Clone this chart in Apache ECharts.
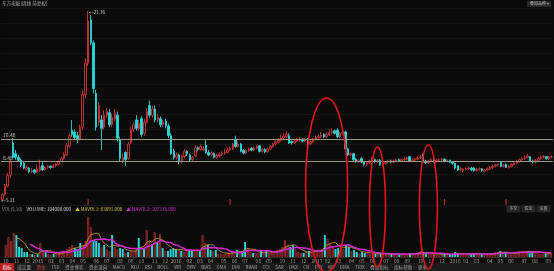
<!DOCTYPE html>
<html><head><meta charset="utf-8">
<script src="https://cdn.jsdelivr.net/npm/echarts@6/dist/echarts.min.js"></script>
<style>html,body{margin:0;padding:0;background:#0a0a0a;overflow:hidden}#c{width:554px;height:271px}</style>
</head><body><div id="c"></div>
<script>
// ---- data (weekly, forward adjusted) ----
const startDate = '2014-10-10';
const opens = [5.16,5.58,6.33,7.28,10.14,9.19,8.87,8.61,8.34,7.81,7.92,7.60,7.76,7.55,7.70,8.13,7.81,7.97,8.08,7.97,
8.13,8.24,8.50,8.77,9.08,9.83,11.26,11.10,10.78,10.46,11.52,14.39,17.15,20.97,18.95,14.49,11.95,12.16,11.52,12.58,
12.80,11.74,12.27,12.58,10.46,8.55,9.30,8.77,10.14,11.31,12.16,11.42,12.27,10.99,11.95,13.43,12.58,13.12,12.16,12.27,
11.74,12.05,11.63,10.78,9.40,8.87,9.08,8.45,8.93,9.40,9.08,8.66,8.98,9.72,9.56,9.51,9.93,9.30,9.08,9.19,
8.87,9.03,9.14,9.24,9.30,9.51,9.61,10.46,9.83,10.04,9.48,9.24,9.48,9.67,9.51,9.67,9.88,9.40,9.56,9.35,
9.61,9.83,10.04,10.20,10.36,10.57,10.68,10.78,10.25,10.14,10.30,10.36,10.46,10.30,10.46,10.04,10.25,10.46,10.62,10.73,
10.89,10.68,10.83,11.05,11.21,11.26,10.68,10.99,11.10,9.61,9.08,9.19,8.71,8.50,8.77,8.45,8.24,8.39,8.55,8.66,
8.50,8.61,8.18,8.34,8.45,8.55,8.45,8.55,8.66,8.55,8.66,8.71,8.93,8.50,8.61,8.71,8.82,9.03,8.55,8.39,
8.55,8.66,8.50,8.61,8.66,8.71,8.55,8.61,8.45,8.34,8.13,7.76,7.70,7.81,7.86,7.92,7.92,7.70,7.81,7.86,
7.65,7.76,7.86,7.97,8.08,8.18,8.45,8.08,8.24,7.97,8.08,8.24,8.34,8.50,8.66,8.77,8.87,8.93,8.55,8.45,
8.61,8.77,8.87,8.93,8.77,8.87];
const closes = [5.58,6.33,7.28,8.45,8.87,8.87,8.61,8.18,7.92,7.97,7.60,7.70,7.55,7.81,8.02,7.76,7.97,8.08,7.97,8.13,
8.29,8.50,8.77,9.14,9.93,10.78,10.89,10.62,10.41,11.52,14.39,17.15,20.86,18.95,14.92,11.52,13.43,11.42,12.58,12.90,
11.74,12.37,12.80,10.57,8.77,8.87,8.66,10.04,11.31,11.74,11.42,11.84,10.89,11.95,12.90,12.58,13.12,12.16,12.37,11.74,
11.95,11.63,10.78,9.19,8.87,9.08,8.45,8.98,9.40,9.19,8.66,8.87,9.72,9.56,9.83,9.61,9.30,9.08,9.24,8.87,
9.03,9.14,9.24,9.35,9.51,9.67,10.04,9.83,10.04,9.40,9.24,9.48,9.61,9.51,9.67,9.83,9.40,9.56,9.35,9.61,
9.83,10.04,10.20,10.36,10.57,10.73,10.89,10.14,10.14,10.30,10.41,10.46,10.30,10.46,10.04,10.25,10.46,10.62,10.73,10.83,
10.68,10.89,11.05,11.15,10.99,10.68,10.99,11.10,9.61,9.08,9.19,8.66,8.50,8.61,8.45,8.24,8.39,8.55,8.66,8.50,
8.61,8.18,8.34,8.45,8.55,8.45,8.55,8.66,8.55,8.66,8.71,8.82,8.50,8.61,8.71,8.82,8.87,8.45,8.39,8.55,
8.66,8.50,8.61,8.66,8.71,8.55,8.61,8.45,8.34,7.92,7.76,7.86,7.81,7.86,7.92,7.76,7.70,7.81,7.86,7.70,
7.76,7.86,7.97,8.08,8.18,8.24,8.08,8.18,7.97,8.08,8.24,8.34,8.50,8.66,8.77,8.87,8.98,8.50,8.45,8.61,
8.77,8.87,8.93,8.77,8.87,8.93];
const lows = [5.11,5.48,6.22,7.07,8.77,8.66,8.45,8.02,7.81,7.70,7.49,7.49,7.39,7.49,7.60,7.65,7.70,7.86,7.86,7.92,
8.02,8.18,8.45,8.66,8.98,9.72,10.68,10.46,10.14,10.36,11.31,14.07,16.93,18.74,14.49,11.21,11.63,9.51,11.31,12.37,
11.52,11.52,12.05,10.25,8.45,8.34,8.13,8.66,10.04,11.10,11.21,11.21,10.68,10.78,11.84,12.37,12.37,11.95,11.95,11.52,
11.52,11.42,10.57,9.08,8.66,8.66,8.24,8.34,8.77,8.98,8.55,8.55,8.87,9.40,9.45,9.40,9.19,8.98,8.98,8.77,
8.77,8.87,8.98,9.08,9.19,9.40,9.51,9.72,9.72,9.30,9.14,9.14,9.35,9.40,9.40,9.56,9.30,9.30,9.24,9.30,
9.51,9.72,9.93,10.09,10.25,10.46,10.57,10.04,9.99,10.04,10.20,10.25,10.20,10.20,9.83,9.93,10.14,10.36,10.46,10.57,
10.57,10.57,10.73,10.89,10.89,10.57,10.57,10.89,9.51,8.98,8.98,8.55,8.39,8.39,8.34,8.13,8.13,8.29,8.45,8.39,
8.39,8.13,8.08,8.24,8.34,8.34,8.34,8.45,8.45,8.45,8.55,8.61,8.45,8.45,8.55,8.61,8.71,8.34,8.29,8.29,
8.45,8.39,8.39,8.50,8.55,8.45,8.45,8.34,8.24,7.81,7.65,7.65,7.55,7.70,7.76,7.65,7.60,7.60,7.70,7.60,
7.55,7.65,7.76,7.86,7.97,8.08,8.02,7.97,7.92,7.86,7.97,8.13,8.24,8.39,8.55,8.66,8.77,8.45,8.34,8.34,
8.50,8.66,8.77,8.66,8.66,8.77];
const highs = [5.69,6.54,7.49,8.66,10.57,9.51,9.08,8.77,8.55,8.13,8.02,7.92,7.81,8.24,8.66,8.45,8.08,8.18,8.18,8.24,
8.39,8.61,8.87,9.30,10.14,10.99,12.16,11.31,11.10,11.74,14.81,17.57,21.76,21.39,19.16,14.81,13.75,12.58,13.01,13.22,
13.12,12.69,13.12,12.90,10.68,9.19,9.40,10.25,11.63,11.95,12.58,12.16,12.48,12.27,13.22,13.86,13.43,13.43,12.69,12.48,
12.16,12.27,11.84,10.99,9.61,9.30,9.19,9.08,9.61,9.51,9.19,8.98,9.93,9.83,10.00,9.83,10.36,9.51,9.40,9.30,
9.19,9.30,9.40,9.61,9.72,9.83,10.14,10.78,10.25,10.14,9.61,9.56,9.72,9.77,9.83,9.93,9.93,9.67,9.67,9.72,
9.93,10.14,10.36,10.57,10.89,10.99,11.21,10.99,10.36,10.46,10.57,10.62,10.57,10.57,10.57,10.36,10.57,10.78,10.89,11.10,
10.99,11.10,11.31,11.42,11.31,11.42,11.10,11.31,11.21,9.72,9.30,9.24,8.82,8.71,8.87,8.55,8.50,8.66,8.87,8.77,
8.71,8.71,8.45,8.55,8.66,8.66,8.66,8.77,8.77,8.77,8.87,8.93,8.98,8.77,8.82,8.98,9.08,9.19,8.66,8.66,
8.77,8.77,8.71,8.77,8.82,8.77,8.71,8.66,8.50,8.39,8.18,7.97,7.92,7.97,8.08,8.02,8.02,7.92,7.97,7.92,
7.86,7.97,8.08,8.18,8.29,8.34,8.55,8.29,8.34,8.18,8.34,8.45,8.61,8.77,8.93,9.03,9.19,8.98,8.66,8.71,
8.87,9.03,9.08,8.98,8.98,9.03];
const volumes = [300000,500000,400000,600000,550000,250000,225000,125000,125000,75000,75000,50000,75000,350000,150000,150000,75000,50000,75000,75000,
100000,125000,150000,200000,250000,300000,225000,200000,350000,300000,400000,1000000,750000,425000,400000,350000,250000,300000,200000,150000,
550000,250000,200000,225000,200000,100000,125000,150000,150000,200000,475000,250000,225000,675000,375000,325000,625000,350000,575000,225000,
150000,150000,200000,225000,200000,175000,150000,125000,175000,175000,150000,125000,200000,150000,550000,350000,300000,175000,150000,175000,
75000,75000,75000,100000,100000,125000,125000,175000,125000,150000,375000,225000,125000,100000,100000,100000,150000,100000,175000,100000,
125000,150000,175000,200000,250000,425000,300000,250000,300000,200000,125000,100000,100000,125000,150000,125000,175000,175000,150000,200000,
550000,450000,350000,250000,200000,225000,300000,200000,300000,250000,150000,175000,125000,100000,125000,100000,125000,75000,75000,75000,
75000,100000,75000,75000,50000,75000,75000,75000,75000,50000,75000,75000,100000,75000,75000,125000,150000,125000,100000,75000,
75000,75000,75000,50000,75000,75000,50000,75000,75000,125000,100000,75000,75000,50000,75000,75000,100000,75000,75000,75000,
50000,75000,75000,100000,125000,125000,150000,100000,125000,75000,75000,100000,125000,150000,150000,125000,120000,150000,140000,130000,
114325,72000,65455,88000,90000,104000];
const levelValues = [10.48, 8.48];
const peakIndex = 32, lowIndex = 0;
const volumeLegend = ['VOL(5,10)', 'VOLUME: 104000.000', '▲ MAVOL1: 83891.000', '▲ MAVOL2: 107378.000'];
const title = '东方电缆(周线 前复权)';
const tabs = ['指标','成交量','资金','TSD','资金博弈','资金流向','MACD','KDJ','RSI','BOLL','WR','OBV','BIAS','DMA','DMI','BRAR','CCI','SAR','DKX','CR','PSY','KD','DMA','TRIX','叠加指标','指标帮助','更多'];
// annotation circles: anchored at a week index and a price (top of ellipse)
const circles = [{index:121, top:14.09, rx:21, ry:87}, {index:140, top:9.78, rx:8, ry:60}, {index:159, top:9.95, rx:9, ry:62}];
const eventMarks = [32, 85, 165, 188];

// ---- build ----
const dates = [];
{ const d0 = new Date(startDate + 'T00:00:00Z');
  for (let i = 0; i < opens.length; i++) { const d = new Date(d0.getTime() + i*7*86400000); dates.push(d.toISOString().slice(0,10)); } }
const kdata = opens.map((o,i)=>[o, closes[i], lows[i], highs[i]]);
const UP = '#cc3638', DOWN = '#2bd6d6', BG = '#0a0a0a';
const volData = volumes.map((v,i)=>{ const up = closes[i] >= opens[i];
  return {value:v, itemStyle: up ? {color:BG, borderColor:'#b83434', borderWidth:0.8} : {color:DOWN}}; });
function ma(n){ return volumes.map((v,i)=>{ if(i<n-1) return null; let s=0; for(let k=i-n+1;k<=i;k++) s+=volumes[k]; return +(s/n).toFixed(0); }); }
const FONT = '"Noto Sans CJK SC", "Noto Sans", sans-serif';

const chart = echarts.init(document.getElementById('c'), null, {renderer:'canvas'});
chart.setOption({
  backgroundColor: BG, animation: false,
  grid: [{left:1, right:1, top:8, height:197}, {left:1, right:1, top:215, height:42}],
  xAxis: [
    {type:'category', gridIndex:0, data:dates, boundaryGap:true, axisLine:{show:false}, axisTick:{show:false}, axisLabel:{show:false}},
    {type:'category', gridIndex:1, data:dates, boundaryGap:true, axisLine:{lineStyle:{color:'#2a2a2a'}}, axisTick:{show:false},
     axisLabel:{fontSize:5, color:'#9a9a9a', margin:2, fontFamily:FONT,
       interval:(i)=> i===0 || dates[i].slice(5,7)!==dates[i-1].slice(5,7),
       formatter:(v)=> v.slice(5,7)==='01' ? v.slice(0,4) : v.slice(5,7)}}
  ],
  yAxis: [
    {type:'value', gridIndex:0, min:4.67, max:22.02, axisLine:{show:false}, axisTick:{show:false}, axisLabel:{show:false}, splitLine:{show:false}},
    {type:'value', gridIndex:0, min:0, max:13, interval:1, axisLine:{show:false}, axisTick:{show:false}, axisLabel:{show:false}, splitLine:{lineStyle:{color:'#151515', width:1}}},
    {type:'value', gridIndex:1, min:0, max:1050000, axisLine:{show:false}, axisTick:{show:false}, axisLabel:{show:false}, splitLine:{show:false}}
  ],
  series: [
    {type:'candlestick', xAxisIndex:0, yAxisIndex:0, data:kdata, barWidth:'74%',
     itemStyle:{color:BG, color0:DOWN, borderColor:UP, borderColor0:DOWN, borderWidth:0.9},
     markLine:{silent:true, symbol:'none', animation:false,
       lineStyle:{color:'#9c9882', type:'solid', width:1},
       label:{position:'insideStartTop', fontSize:5, color:'#c8c8c8', distance:[2,1], fontFamily:FONT, formatter:(p)=>p.value.toFixed(2)},
       data: levelValues.map(v=>({yAxis:v}))}},
    {type:'bar', xAxisIndex:1, yAxisIndex:2, data:volData, barWidth:'74%'},
    {type:'line', xAxisIndex:1, yAxisIndex:2, data:ma(5), symbol:'none', lineStyle:{color:'#c9a13a', width:0.8}, z:5},
    {type:'line', xAxisIndex:1, yAxisIndex:2, data:ma(10), symbol:'none', lineStyle:{color:'#d42ad4', width:1.5}, z:6}
  ]
});

function px(i, v){ return chart.convertToPixel({seriesIndex:0}, [i, v]); }
const ctx = document.createElement('canvas').getContext('2d');
function tw(t, fs){ ctx.font = fs + 'px ' + FONT; return ctx.measureText(t).width; }

const g = [];
g.push({type:'text', left:2, top:1, style:{text:title, fill:'#b0b0b0', font:'4.6px '+FONT}});
g.push({type:'rect', shape:{x:527, y:1, width:24, height:6, r:1}, style:{fill:'#2a2a2a'}});
g.push({type:'text', x:530, y:1.6, style:{text:'叠加品种 ▾', fill:'#bbbbbb', font:'4px '+FONT}});
{ const p = px(peakIndex, highs[peakIndex]);
  g.push({type:'text', x:p[0]+1, y:p[1]-1, style:{text:'←'+highs[peakIndex].toFixed(2), fill:'#dddddd', font:'4.6px '+FONT}}); }
{ const p = px(lowIndex, lows[lowIndex]);
  g.push({type:'text', x:p[0]-1, y:p[1]-2, style:{text:'←'+lows[lowIndex].toFixed(2), fill:'#dddddd', font:'4.6px '+FONT}}); }
eventMarks.forEach(i=>{ const p = px(i, 5); g.push({type:'rect', shape:{x:p[0]-0.5, y:199, width:1, height:6}, style:{fill:'#c0302a'}}); });
{ let x = 2; const cols = ['#8a8a8a','#d8d8d8','#d4c23a','#d42ad4'];
  volumeLegend.forEach((t,k)=>{ g.push({type:'text', x:x, y:207, style:{text:t, fill:cols[k], font:'4.6px '+FONT}}); x += tw(t,4.6) + 4; }); }
['多空','资金','设置'].forEach((t,k)=>{ const x = 507 + k*15;
  g.push({type:'rect', shape:{x:x, y:206, width:13, height:6}, style:{fill:'#222', stroke:'#3a3a3a', lineWidth:0.5}});
  g.push({type:'text', x:x+2.5, y:206.8, style:{text:t, fill:'#aaaaaa', font:'4px '+FONT}}); });
g.push({type:'rect', shape:{x:0, y:263, width:554, height:8}, style:{fill:'#1b1b1b'}, z:50});
{ let x = 0;
  tabs.forEach((t,k)=>{ const w = tw(t,4.6) + 5;
    if (k===0) g.push({type:'rect', shape:{x:x, y:263, width:w, height:8}, style:{fill:'#b62020'}, z:51});
    g.push({type:'text', x:x+2.5, y:264.8, style:{text:t, fill: k===0 ? '#ffffff' : (k===2 ? '#e04040' : '#a0a0a0'), font:'4.6px '+FONT}, z:52});
    x += w + 0.5; }); }
circles.forEach(c=>{ const p = px(c.index, c.top);
  g.push({type:'ellipse', shape:{cx:p[0], cy:p[1]+c.ry, rx:c.rx, ry:c.ry}, style:{fill:'none', stroke:'#e3161b', lineWidth:1.6}, z:100}); });
chart.setOption({graphic: g});
</script></body></html>
